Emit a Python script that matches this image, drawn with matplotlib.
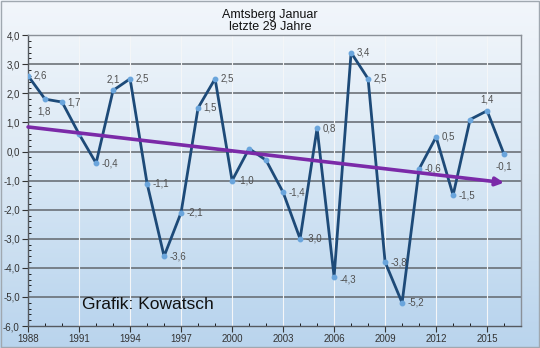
import numpy as np
import matplotlib
matplotlib.use("Agg")
import matplotlib.pyplot as plt
from matplotlib.ticker import MultipleLocator, FixedLocator, FuncFormatter
from matplotlib.colors import LinearSegmentedColormap

plt.rcParams['font.family'] = ['Liberation Sans', 'DejaVu Sans']

years = list(range(1988, 2017))
values = [2.6, 1.8, 1.7, 0.6, -0.4, 2.1, 2.5, -1.1, -3.6, -2.1, 1.5, 2.5, -1.0,
          0.1, -0.3, -1.4, -3.0, 0.8, -4.3, 3.4, 2.5, -3.8, -5.2, -0.6, 0.5,
          -1.5, 1.1, 1.4, -0.1]
labelled = [True, True, True, False, True, True, True, True, True, True, True, True, True,
            False, False, True, True, True, True, True, True, True, True, True, True,
            True, False, True, True]
xticks = list(range(1988, 2017, 3))
title = "Amtsberg Januar\nletzte 29 Jahre"
credit = "Grafik: Kowatsch"

fig = plt.figure(figsize=(5.4, 3.48), dpi=100)

# figure background gradient
bg = fig.add_axes([0, 0, 1, 1], zorder=-10)
grad = np.linspace(0, 1, 256).reshape(-1, 1)
cm_bg = LinearSegmentedColormap.from_list("bg", ["#f2f6fb", "#dbe8f4", "#b9d4ed"])
bg.imshow(grad, aspect='auto', cmap=cm_bg, extent=[0, 1, 0, 1], origin='upper')
bg.set_axis_off()
fig.patches.append(plt.Rectangle((0.002, 0.003), 0.996, 0.994, transform=fig.transFigure,
                                 fill=False, edgecolor='#a0a8b0', lw=1.0))

ax = fig.add_axes([0.052, 0.063, 0.913, 0.836])
cm_ax = LinearSegmentedColormap.from_list("ax", ["#eef4fa", "#d6e6f4", "#bad5ee"])
ax.imshow(grad, aspect='auto', cmap=cm_ax, extent=[1988, 2017, -6, 4], origin='upper', zorder=0)
ax.patch.set_alpha(0)
ax.set_xlim(1988, 2017)
ax.set_ylim(-6, 4)

ax.xaxis.set_major_locator(FixedLocator(xticks))
ax.xaxis.set_minor_locator(MultipleLocator(1))
ax.yaxis.set_major_locator(MultipleLocator(1))
ax.yaxis.set_minor_locator(MultipleLocator(0.2))
ax.yaxis.set_major_formatter(FuncFormatter(lambda v, p: f"{v:.1f}".replace('.', ',')))
ax.xaxis.set_major_formatter(FuncFormatter(lambda v, p: f"{int(round(v))}"))
ax.tick_params(axis='both', labelsize=7, colors='#333333', length=4, width=0.8)
ax.tick_params(axis='both', which='minor', length=2, width=0.6, direction='in')
ax.tick_params(axis='x', pad=2)
ax.tick_params(axis='y', pad=2)

for y in range(-5, 4):
    ax.axhline(y, color='#62676d', lw=1.1, zorder=1)
for x in xticks[1:]:
    ax.axvline(x, color='#f4f6f8', lw=0.8, zorder=1)

for s in ['left', 'bottom']:
    ax.spines[s].set_color('#555a60')
    ax.spines[s].set_linewidth(1.0)
for s in ['right', 'top']:
    ax.spines[s].set_color('#8a9098')
    ax.spines[s].set_linewidth(1.0)

ax.plot(years, values, color='#1d4a78', lw=2.0, zorder=3,
        marker='o', markersize=3.2, markerfacecolor='#6aa5dc', markeredgecolor='#6aa5dc')

# trend line from linear regression
coef = np.polyfit(years, values, 1)
x0, x1 = years[0], years[-1]
ax.annotate("", xy=(x1, np.polyval(coef, x1)), xytext=(x0, np.polyval(coef, x0)),
            arrowprops=dict(arrowstyle='-|>', color='#7b2aa8', lw=2.6,
                            mutation_scale=12, shrinkA=0, shrinkB=0), zorder=4)

offsets = {1989: (-1, -9, 'center'), 1993: (0, 8, 'center'), 2015: (0, 8, 'center'),
           2016: (0, -9, 'center'), 2006: (4, -2, 'left')}
for yr, v, lab in zip(years, values, labelled):
    if not lab:
        continue
    dx, dy, ha = offsets.get(yr, (4, 0, 'left'))
    ax.annotate(f"{v:.1f}".replace('.', ','), (yr, v), xytext=(dx, dy),
                textcoords='offset points', ha=ha, va='center', fontsize=7,
                color='#505050', zorder=5)

ax.text(1991.2, -5.25, credit, fontsize=12.5, color='#111111', ha='left', va='center', zorder=5)
fig.text(0.5, 0.94, title, ha='center', va='center', fontsize=9, color='#111111',
         linespacing=1.05)

fig.savefig("out.png", dpi=100)
